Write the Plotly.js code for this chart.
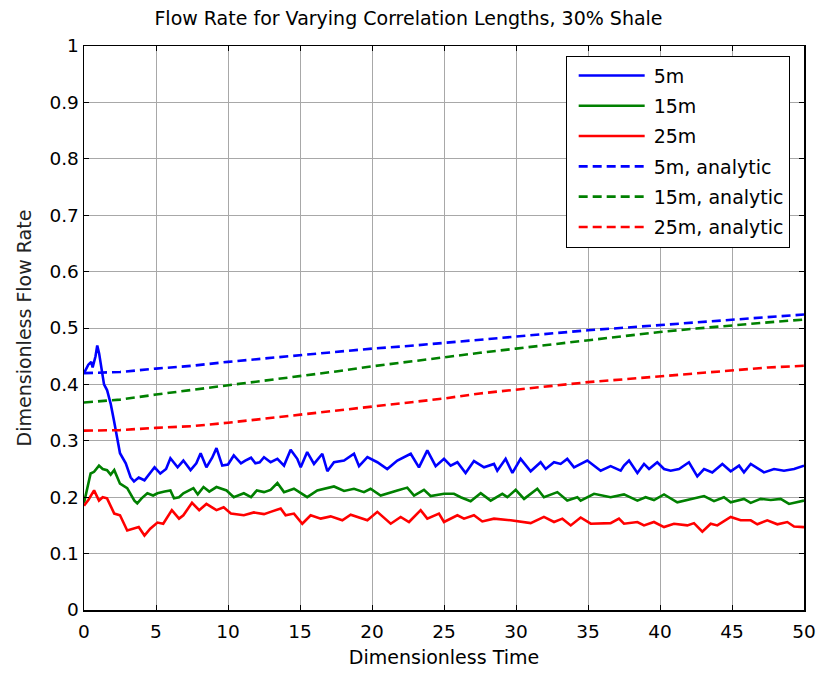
<!DOCTYPE html>
<html>
<head>
<meta charset="utf-8">
<script src="https://cdn.plot.ly/plotly-3.0.1.min.js"></script>
<style>
html,body{margin:0;padding:0;background:#fff;}
#chart{width:817px;height:673px;}
</style>
</head>
<body>
<div id="chart"></div>
<script>
// ---------- data ----------
const seriesNames = ["5m", "15m", "25m", "5m, analytic", "15m, analytic", "25m, analytic"];

const blueX = [0,0.3,0.5,0.6,0.8,0.92,1.05,1.16,1.39,1.6,1.85,2.08,2.3,2.5,2.9,3.24,3.47,3.8,4.2,4.5,4.9,5.3,5.7,6.0,6.5,6.9,7.4,7.8,8.1,8.5,8.9,9.2,9.6,10.0,10.4,10.9,11.2,11.6,11.9,12.2,12.5,
  12.96,13.43,13.89,14.35,14.81,15.05,15.5,15.97,16.55,16.9,17.36,18.06,18.75,19.1,19.68,20.37,21.06,21.76,22.69,23.26,23.84,24.42,25,
  25.46,25.93,26.5,27.08,27.78,28.47,28.7,29.28,29.75,30.32,31.02,31.71,32.06,32.64,33.1,33.56,34.03,34.95,35.88,36.57,37.27,37.5,
  37.85,38.43,38.89,39.24,39.81,40.28,40.74,41.32,42.01,42.59,43.06,43.63,44.33,44.91,45.49,45.83,46.3,47.22,47.92,48.61,49.31,50];
const blueY = [0.42,0.435,0.44,0.43,0.45,0.469,0.455,0.437,0.40,0.39,0.366,0.336,0.306,0.278,0.26,0.235,0.228,0.235,0.23,0.24,0.253,0.242,0.25,0.269,0.253,0.265,0.248,0.26,0.278,0.253,0.27,0.287,0.256,0.258,0.274,0.26,0.265,0.27,0.26,0.262,0.271,
  0.262,0.268,0.256,0.284,0.268,0.253,0.28,0.259,0.277,0.246,0.262,0.265,0.277,0.255,0.271,0.262,0.25,0.265,0.277,0.253,0.283,0.255,0.268,
  0.256,0.262,0.243,0.264,0.253,0.259,0.247,0.268,0.243,0.268,0.246,0.262,0.25,0.262,0.259,0.268,0.253,0.265,0.247,0.255,0.247,0.256,
  0.265,0.243,0.259,0.25,0.262,0.25,0.247,0.25,0.262,0.237,0.25,0.244,0.259,0.246,0.256,0.244,0.259,0.244,0.25,0.247,0.25,0.256];

const greenX = [0,0.2,0.46,0.7,1.04,1.3,1.6,1.85,2.1,2.5,3.0,3.5,3.7,4.0,4.4,4.8,5.1,5.6,6.0,6.25,6.6,6.9,7.6,7.9,8.3,8.7,9.2,9.9,10.4,11.1,11.6,12.0,12.5,
  12.96,13.43,13.89,14.58,15.5,16.2,17.36,18.06,18.75,19.44,19.9,20.6,21.76,22.45,22.92,23.61,24.07,25,
  25.69,26.16,26.85,27.55,28.24,29.05,29.4,29.98,30.56,31.48,31.94,32.87,33.56,34.26,34.49,35.42,36.57,37.5,
  38.43,39.0,39.58,40.28,41.2,42.13,43.06,43.75,44.44,44.91,45.83,46.3,46.99,47.69,48.38,48.96,50];
const greenY = [0.19,0.215,0.242,0.245,0.256,0.25,0.248,0.24,0.248,0.224,0.216,0.194,0.189,0.198,0.207,0.203,0.207,0.21,0.212,0.198,0.2,0.207,0.216,0.205,0.218,0.21,0.218,0.212,0.2,0.207,0.2,0.212,0.209,
  0.213,0.225,0.209,0.215,0.2,0.212,0.219,0.211,0.215,0.209,0.215,0.203,0.212,0.217,0.203,0.213,0.202,0.206,
  0.206,0.2,0.193,0.207,0.194,0.206,0.2,0.213,0.197,0.215,0.2,0.209,0.194,0.2,0.194,0.206,0.2,0.205,
  0.194,0.2,0.195,0.205,0.191,0.197,0.202,0.193,0.2,0.191,0.197,0.19,0.197,0.195,0.197,0.188,0.194];

const redX = [0,0.3,0.7,1.04,1.3,1.6,2.1,2.5,3.0,3.5,3.8,4.2,4.6,5.1,5.5,6.1,6.6,6.9,7.5,8.0,8.5,9.2,9.7,10.2,11.1,11.8,12.5,
  12.96,13.66,14.0,14.58,15.16,15.74,16.44,17.13,17.94,18.52,19.68,20.37,21.3,21.99,22.57,23.38,23.84,24.65,25,
  25.93,26.39,27.08,27.66,28.47,29.63,31.02,31.94,32.64,33.22,33.8,34.49,35.19,36.57,37.15,37.5,
  38.43,38.89,39.58,40.28,40.97,41.9,42.36,42.94,43.52,43.98,44.91,45.6,46.3,46.76,47.45,48.15,48.84,49.31,50];
const redY = [0.185,0.195,0.212,0.194,0.2,0.198,0.171,0.168,0.141,0.144,0.147,0.132,0.144,0.155,0.153,0.177,0.162,0.168,0.19,0.177,0.188,0.177,0.182,0.171,0.168,0.173,0.17,
  0.174,0.18,0.168,0.171,0.153,0.168,0.162,0.166,0.159,0.169,0.159,0.174,0.153,0.165,0.156,0.177,0.162,0.171,0.156,
  0.168,0.162,0.168,0.157,0.162,0.159,0.154,0.165,0.156,0.162,0.15,0.164,0.153,0.154,0.162,0.153,
  0.156,0.15,0.156,0.147,0.153,0.15,0.154,0.139,0.153,0.15,0.165,0.159,0.159,0.152,0.159,0.152,0.156,0.148,0.147];

const analyticX = [0,2.5,5,7.5,10,12.5,15,17.5,20,22.5,25,27.5,30,32.5,35,37.5,40,42.5,45,47.5,50];
const blueA  = [0.42,0.422,0.428,0.433,0.44,0.446,0.452,0.458,0.4635,0.468,0.4735,0.479,0.4854,0.491,0.496,0.5005,0.505,0.5095,0.514,0.519,0.524];
const greenA = [0.368,0.373,0.382,0.39,0.398,0.406,0.414,0.423,0.432,0.44,0.449,0.456,0.4635,0.471,0.478,0.486,0.493,0.499,0.505,0.51,0.515];
const redA   = [0.318,0.319,0.323,0.326,0.332,0.339,0.347,0.353,0.36,0.367,0.375,0.384,0.391,0.398,0.404,0.409,0.414,0.42,0.425,0.43,0.433];

const yTickVals = [0,0.1,0.2,0.3,0.4,0.5,0.6,0.7,0.8,0.9,1];
const yTickText = ["0","0.1","0.2","0.3","0.4","0.5","0.6","0.7","0.8","0.9","1"];
const xTickVals = [0,5,10,15,20,25,30,35,40,45,50];
const xTickText = ["0","5","10","15","20","25","30","35","40","45","50"];

// ---------- chart ----------
const FONT = "DejaVu Sans, Liberation Sans, Arial, sans-serif";
const colors = ["#0000ff", "#008000", "#ff0000"];
const dashStyle = "9px,5px";

function solid(x, y, name, color, g) {
  return {x: x, y: y, name: name, type: "scatter", mode: "lines", legendgroup: g,
          line: {color: color, width: 2.6}};
}
function dashed(x, y, name, color, g) {
  return {x: x, y: y, name: name, type: "scatter", mode: "lines", legendgroup: g,
          line: {color: color, width: 2.6, dash: dashStyle}};
}

const traces = [
  solid(blueX, blueY, seriesNames[0], colors[0], "a"),
  solid(greenX, greenY, seriesNames[1], colors[1], "b"),
  solid(redX, redY, seriesNames[2], colors[2], "c"),
  dashed(analyticX, blueA, seriesNames[3], colors[0], "d"),
  dashed(analyticX, greenA, seriesNames[4], colors[1], "e"),
  dashed(analyticX, redA, seriesNames[5], colors[2], "f")
];

const axisCommon = {
  showline: true, linecolor: "#000", linewidth: 1.5, mirror: "ticks",
  ticks: "inside", ticklen: 5, tickwidth: 1, tickcolor: "#000",
  showgrid: true, gridcolor: "#a8a8a8", gridwidth: 1,
  zeroline: false, tickfont: {family: FONT, size: 18.5, color: "#000"},
  tickmode: "array", fixedrange: true
};

const layout = {
  width: 817, height: 673,
  paper_bgcolor: "#fff", plot_bgcolor: "#fff",
  margin: {l: 84, r: 13, t: 46, b: 63},
  title: {text: "Flow Rate for Varying Correlation Lengths, 30% Shale",
          font: {family: FONT, size: 19, color: "#000"},
          x: 0.5, xanchor: "center", y: 0.973, yanchor: "middle", yref: "container"},
  xaxis: Object.assign({}, axisCommon, {
    range: [0, 50], tickvals: xTickVals, ticktext: xTickText, ticklabelstandoff: 4,
    title: {text: "Dimensionless Time", font: {family: FONT, size: 19, color: "#000"}, standoff: 10}
  }),
  yaxis: Object.assign({}, axisCommon, {
    range: [0, 1], tickvals: yTickVals, ticktext: yTickText,
    title: {text: "Dimensionless Flow Rate", font: {family: FONT, size: 19, color: "#222"}, standoff: 12}
  }),
  showlegend: true,
  legend: {
    x: 0.669, y: 0.983, xanchor: "left", yanchor: "top",
    bgcolor: "#fff", bordercolor: "#000", borderwidth: 1,
    font: {family: FONT, size: 19, color: "#000"},
    tracegroupgap: 2.6, itemwidth: 77
  }
};

Plotly.newPlot("chart", traces, layout, {displayModeBar: false, staticPlot: true}).then(function (gd) {
  // lengthen legend line samples to match the reference legend
  gd.querySelectorAll(".legendlines path").forEach(function (p) {
    p.setAttribute("d", "M12,0h66");
  });
});
</script>
</body>
</html>
